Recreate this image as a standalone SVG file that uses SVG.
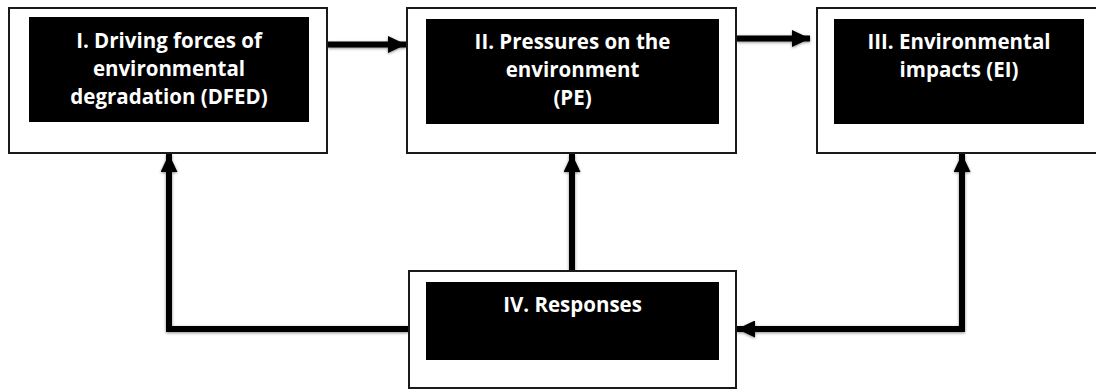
<svg xmlns="http://www.w3.org/2000/svg" width="1096" height="390" viewBox="0 0 1096 390">
  <style>
    .outer { fill: #ffffff; stroke: #1a1a1a; stroke-width: 2; }
    .inner { fill: #000000; }
    .label { fill: #ffffff; font-family: "Open Sans", "Liberation Sans", sans-serif; font-weight: bold; font-size: 20.5px; text-anchor: middle; }
    .wire { fill: none; stroke: #000000; stroke-width: 6; stroke-linejoin: miter; }
  </style>
  <defs>
    <filter id="soft" x="-10%" y="-10%" width="120%" height="120%">
      <feGaussianBlur in="SourceAlpha" stdDeviation="1.5"/>
      <feOffset dx="0" dy="1" result="blur"/>
      <feComponentTransfer><feFuncA type="linear" slope="0.45"/></feComponentTransfer>
      <feMerge><feMergeNode/><feMergeNode in="SourceGraphic"/></feMerge>
    </filter>
    <marker id="head" markerWidth="18" markerHeight="17" refX="18" refY="8.5" orient="auto-start-reverse" markerUnits="userSpaceOnUse">
      <path d="M0,0 L18,8.5 L0,17 Z" fill="#000000"/>
    </marker>
  </defs>

  <rect width="1096" height="390" fill="#ffffff"/>

  <!-- connectors -->
  <g id="connectors" filter="url(#soft)">
    <path class="wire" d="M328,44.5 H406" marker-end="url(#head)"/>
    <path class="wire" d="M737,38.5 H810" marker-end="url(#head)"/>
    <path class="wire" d="M409,329 H169 V154" marker-end="url(#head)"/>
    <path class="wire" d="M572,271 V154" marker-end="url(#head)"/>
    <path class="wire" d="M962,154 V329 H737" marker-start="url(#head)" marker-end="url(#head)"/>
  </g>

  <!-- I. Driving forces -->
  <g id="node-dfed">
    <rect class="outer" x="9" y="8" width="318" height="145"/>
    <rect class="inner" x="29" y="17" width="280" height="105"/>
    <text class="label" x="169" y="48">I. Driving forces of</text>
    <text class="label" x="169" y="76">environmental</text>
    <text class="label" x="169" y="104">degradation (DFED)</text>
  </g>

  <!-- II. Pressures -->
  <g id="node-pe">
    <rect class="outer" x="407" y="8" width="329" height="145"/>
    <rect class="inner" x="426" y="19" width="293" height="105"/>
    <text class="label" x="572.5" y="49">II. Pressures on the</text>
    <text class="label" x="572.5" y="77">environment</text>
    <text class="label" x="572.5" y="105">(PE)</text>
  </g>

  <!-- III. Environmental impacts -->
  <g id="node-ei">
    <rect class="outer" x="817" y="8" width="290" height="145"/>
    <rect class="inner" x="834" y="19" width="250" height="105"/>
    <text class="label" x="959" y="49">III. Environmental</text>
    <text class="label" x="959" y="77">impacts (EI)</text>
  </g>

  <!-- IV. Responses -->
  <g id="node-responses">
    <rect class="outer" x="409" y="271" width="327" height="117"/>
    <rect class="inner" x="426" y="282" width="293" height="78"/>
    <text class="label" x="572.5" y="312">IV. Responses</text>
  </g>
</svg>
